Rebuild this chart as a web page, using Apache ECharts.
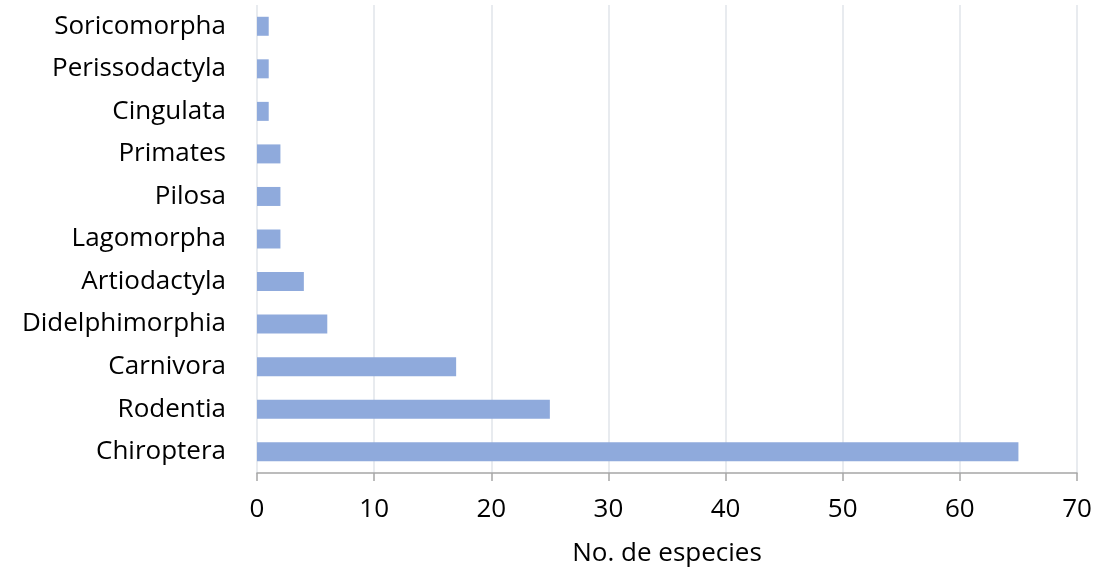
<!DOCTYPE html>
<html><head><meta charset="utf-8">
<script src="https://cdn.jsdelivr.net/npm/echarts@6/dist/echarts.min.js"></script>
<style>html,body{margin:0;padding:0;background:#fff}#c{width:1101px;height:577px}</style>
</head><body><div id="c"></div>
<script>
const categories = ["Chiroptera","Rodentia","Carnivora","Didelphimorphia","Artiodactyla","Lagomorpha","Pilosa","Primates","Cingulata","Perissodactyla","Soricomorpha"];
const values = [65,25,17,6,4,2,2,2,1,1,1];
const xTicks = [0,10,20,30,40,50,60,70];
const chart = echarts.init(document.getElementById('c'));
const font = '"Open Sans", "Liberation Sans", sans-serif';
chart.setOption({
  animation:false,
  grid:{left:257,right:24,top:5,bottom:104,containLabel:false},
  xAxis:{type:'value',min:xTicks[0],max:xTicks[xTicks.length-1],interval:10,
    name:'No. de especies',nameLocation:'middle',nameGap:68,
    nameTextStyle:{fontFamily:font,fontSize:26,color:'#000'},
    axisLine:{show:true,lineStyle:{color:'#a6a6a6',width:1.5}},
    axisTick:{show:true,length:8,lineStyle:{color:'#a6a6a6',width:1.5}},
    axisLabel:{fontFamily:font,fontSize:26,color:'#000',margin:24},
    splitLine:{show:true,lineStyle:{color:'#e1e4ea',width:1.5}}},
  yAxis:{type:'category',data:categories,
    axisLine:{show:false},axisTick:{show:false},
    axisLabel:{fontFamily:font,fontSize:26,color:'#000',margin:31}},
  series:[{type:'bar',data:values,barWidth:19,itemStyle:{color:'#8faadc'}}]
});
</script></body></html>
